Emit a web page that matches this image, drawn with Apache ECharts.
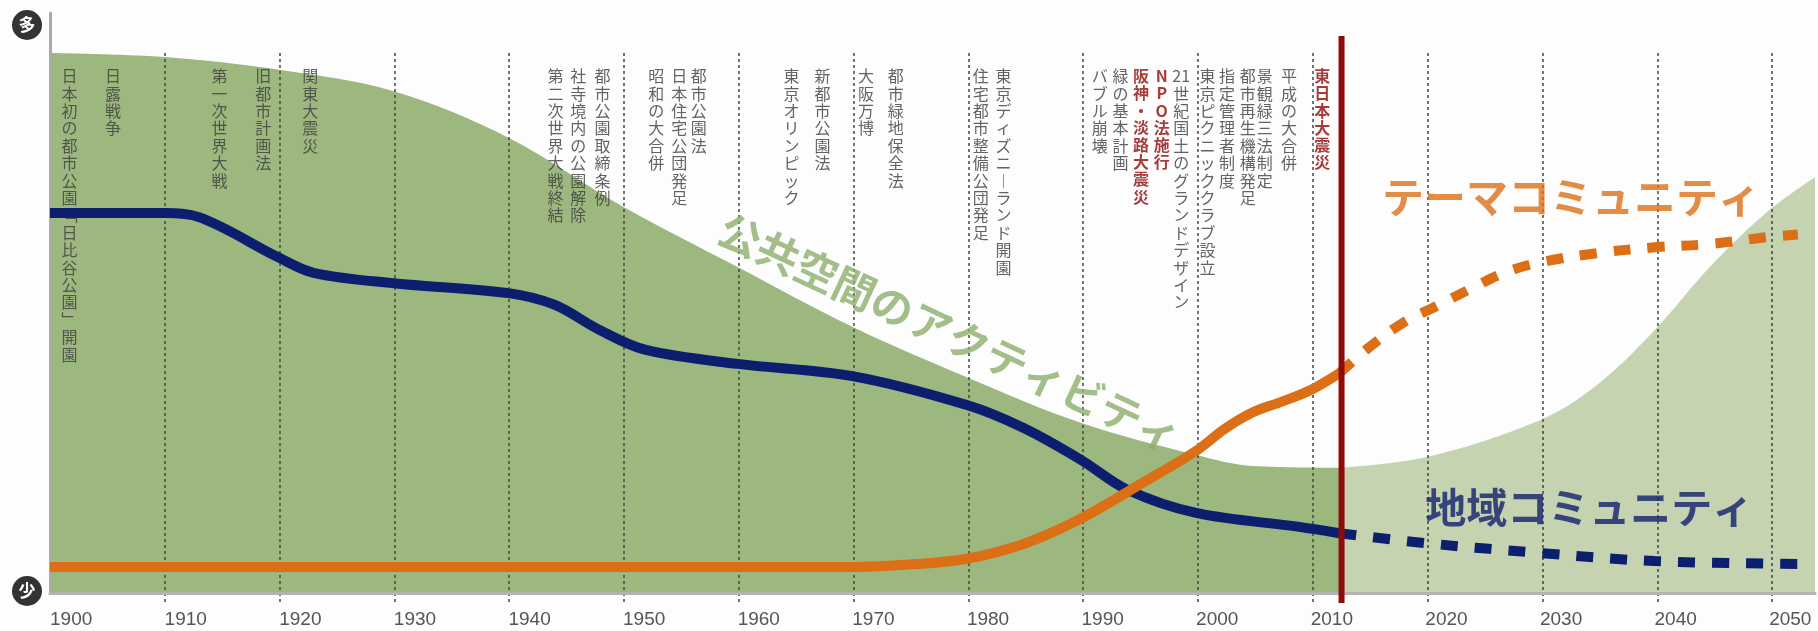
<!DOCTYPE html>
<html><head><meta charset="utf-8">
<script src="https://cdn.jsdelivr.net/npm/echarts@6/dist/echarts.min.js"></script>
<style>html,body{margin:0;padding:0;background:#fdfdfd;}#c{width:1818px;height:631px;}</style>
</head><body><div id="c"></div>
<script>
// ---------- data ----------
const yearTicks = [1900,1910,1920,1930,1940,1950,1960,1970,1980,1990,2000,2010,2020,2030,2040,2050];
const quakeYear = 2012.5;
// 公共空間のアクティビティ (area)
const activityPast = [[1900,93.1],[1910,92.4],[1920,90.2],[1930,86.5],[1940,78.5],[1950,66.6],[1960,56.2],[1970,45.9],[1980,37.2],[1990,29.3],[2000,23.8],[2005,21.9],[2012.5,21.6]];
const activityFuture = [[2012.5,21.6],[2020,23.4],[2030,29.8],[2035,35.9],[2040,45.3],[2045,56.6],[2050,66.0],[2054,71.7]];
// 地域コミュニティ
const localPast = [[1900,65.5],[1910,65.5],[1913,64.8],[1920,57.8],[1923,55.2],[1930,53.4],[1940,51.7],[1944,49.7],[1948,45.3],[1952,41.9],[1960,39.5],[1970,37.4],[1980,32.4],[1985,28.4],[1990,22.9],[1994,17.8],[2000,13.8],[2009,11.4],[2012.5,10.3]];
const localFuture = [[2012.5,10.3],[2020,8.6],[2030,6.9],[2040,5.5],[2052.5,5.0]];
// テーマコミュニティ
const themePast = [[1900,4.5],[1970,4.5],[1975,4.9],[1980,5.9],[1985,8.5],[1990,12.9],[1995,18.6],[2000,24.5],[2002.5,28.3],[2005,31.2],[2007.5,33.0],[2010,35.0],[2012.5,37.9]];
const themeFuture = [[2012.5,37.9],[2015,42.2],[2018,46.5],[2021,49.5],[2024,52.5],[2027,55.3],[2030,57.0],[2035,58.6],[2040,59.6],[2045,60.2],[2050,61.4],[2052.5,61.8]];
// events
const events = [[1901.7,'日本初の都市公園「日比谷公園」開園'],[1905.5,'日露戦争'],[1914.8,'第一次世界大戦'],[1918.6,'旧都市計画法'],[1922.7,'関東大震災'],[1944.1,'第二次世界大戦終結'],[1946.1,'社寺境内の公園解除'],[1948.2,'都市公園取締条例'],[1952.9,'昭和の大合併'],[1954.9,'日本住宅公団発足'],[1956.6,'都市公園法'],[1964.7,'東京オリンピック'],[1967.4,'新都市公園法'],[1971.2,'大阪万博'],[1973.8,'都市緑地保全法'],[1981.2,'住宅都市整備公団発足'],[1983.2,'東京ディズニーランド開園'],[1991.6,'バブル崩壊'],[1993.4,'緑の基本計画'],[1998.7,'21世紀国土のグランドデザイン'],[2001.0,'東京ピクニッククラブ設立'],[2002.7,'指定管理者制度'],[2004.5,'都市再生機構発足'],[2006.0,'景観緑三法制定'],[2008.1,'平成の大合併']];
const majorEvents = [[1995.2,'阪神・淡路大震災'],[1997.0,'NPO法施行'],[2011.0,'東日本大震災']];
const seriesNames = ['公共空間のアクティビティ','テーマコミュニティ','地域コミュニティ'];

// ---------- helpers ----------
function vert(s){
  const cells=[];let i=0;
  while(i<s.length){
    if(/[0-9]/.test(s[i])&&/[0-9]/.test(s[i+1]||'')){cells.push(s.slice(i,i+2));i+=2;continue;}
    let c=s[i];
    if(c==='ー')c='︱';else if(c==='「')c='﹁';else if(c==='」')c='﹂';
    cells.push(c);i++;
  }
  return cells.join('\n');
}
const JP='"Noto Sans CJK JP","Noto Sans CJK SC",sans-serif';
const EVY=90.6;
const NAVY='#0c1f6e', ORANGE='#dc6f16', RED='#8e0b0b';
const SM=0.35;

const chart=echarts.init(document.getElementById('c'),null,{renderer:'canvas'});
const xBase={type:'value',min:1900,max:2054,interval:10};
const option={
  animation:false,
  backgroundColor:'#fdfdfd',
  grid:[
    {left:50,right:0,top:13,bottom:38},
    {left:50,right:0,top:53,bottom:26},
    {left:50,right:0,top:36,bottom:28}
  ],
  xAxis:[
    Object.assign({},xBase,{gridIndex:0,z:2,
      axisLine:{show:true,lineStyle:{color:'#b3b3b3',width:3}},
      axisTick:{show:false},splitLine:{show:false},
      axisLabel:{show:true,align:'left',margin:17,fontSize:19,color:'#555',fontFamily:'"Liberation Sans",Arial,sans-serif',
        formatter:v=>yearTicks.indexOf(v)>=0?String(v):''}}),
    Object.assign({},xBase,{gridIndex:1,z:2,
      axisLine:{show:false},axisTick:{show:false},axisLabel:{show:false},
      splitLine:{show:true,showMinLine:false,showMaxLine:false,lineStyle:{color:'#444',width:1.5,type:[3,3]}}}),
    Object.assign({},xBase,{gridIndex:2,show:false})
  ],
  yAxis:[
    {type:'value',gridIndex:0,min:0,max:100,z:2,axisLine:{show:true,lineStyle:{color:'#aaaaaa',width:3}},axisTick:{show:false},axisLabel:{show:false},splitLine:{show:false}},
    {type:'value',gridIndex:1,min:0,max:1,show:false},
    {type:'value',gridIndex:2,min:0,max:1,show:false}
  ],
  graphic:[
    {type:'circle',shape:{cx:27,cy:25,r:15},style:{fill:'#333'},z:10},
    {type:'text',x:27,y:25,style:{text:'多',fill:'#fff',font:'bold 17px '+JP,align:'center',verticalAlign:'middle'},z:11},
    {type:'circle',shape:{cx:27,cy:591,r:15},style:{fill:'#333'},z:10},
    {type:'text',x:27,y:591,style:{text:'少',fill:'#fff',font:'bold 17px '+JP,align:'center',verticalAlign:'middle'},z:11}
  ],
  series:[
    {name:seriesNames[0],type:'line',xAxisIndex:0,yAxisIndex:0,data:activityPast,smooth:SM,symbol:'none',lineStyle:{width:0},areaStyle:{color:'#9cb87f',opacity:1},z:1},
    {name:seriesNames[0]+'(将来)',type:'line',xAxisIndex:0,yAxisIndex:0,data:activityFuture,smooth:SM,symbol:'none',lineStyle:{width:0},areaStyle:{color:'#c5d3b1',opacity:1},z:1},
    {name:seriesNames[2],type:'line',data:localPast,smooth:SM,symbol:'none',lineStyle:{color:NAVY,width:10},z:3},
    {name:seriesNames[2]+'(将来)',type:'line',data:localFuture,smooth:SM,symbol:'none',lineStyle:{color:NAVY,width:10,type:[17,17],cap:'butt'},z:3},
    {name:seriesNames[1],type:'line',data:themePast,smooth:SM,symbol:'none',lineStyle:{color:ORANGE,width:10},z:3},
    {name:seriesNames[1]+'(将来)',type:'line',data:themeFuture,smooth:SM,symbol:'none',lineStyle:{color:ORANGE,width:10,type:[17,17],cap:'butt'},z:3},
    {name:'東日本大震災ライン',type:'line',xAxisIndex:2,yAxisIndex:2,data:[[quakeYear,0],[quakeYear,1]],symbol:'none',lineStyle:{color:RED,width:6,cap:'butt'},z:4},
    {name:'events',type:'scatter',symbolSize:0,z:5,
      data:events.map(e=>({value:[e[0],EVY],name:e[1]})),
      label:{show:true,position:'inside',align:'center',verticalAlign:'top',formatter:p=>vert(p.name),fontFamily:JP,fontSize:16,lineHeight:17.4,color:'#3c3c3c'}},
    {name:'major events',type:'scatter',symbolSize:0,z:5,
      data:majorEvents.map(e=>({value:[e[0],EVY],name:e[1]})),
      label:{show:true,position:'inside',align:'center',verticalAlign:'top',formatter:p=>vert(p.name),fontFamily:JP,fontSize:16,fontWeight:'bold',lineHeight:17.2,color:RED}},
    {name:'labels',type:'scatter',symbolSize:0,z:6,
      data:[
        {value:[1978.5,44.8],name:seriesNames[0],label:{rotate:-25,color:'#8cae6b',fontSize:42}},
        {value:[2032.7,68.3],name:seriesNames[1],label:{color:ORANGE,fontSize:42}},
        {value:[2034.3,14.7],name:seriesNames[2],label:{color:'#10216e',fontSize:41}}
      ],
      label:{show:true,position:'inside',align:'center',verticalAlign:'middle',formatter:p=>p.name,fontFamily:JP,fontWeight:'bold'}}
  ]
};
chart.setOption(option);
</script></body></html>
